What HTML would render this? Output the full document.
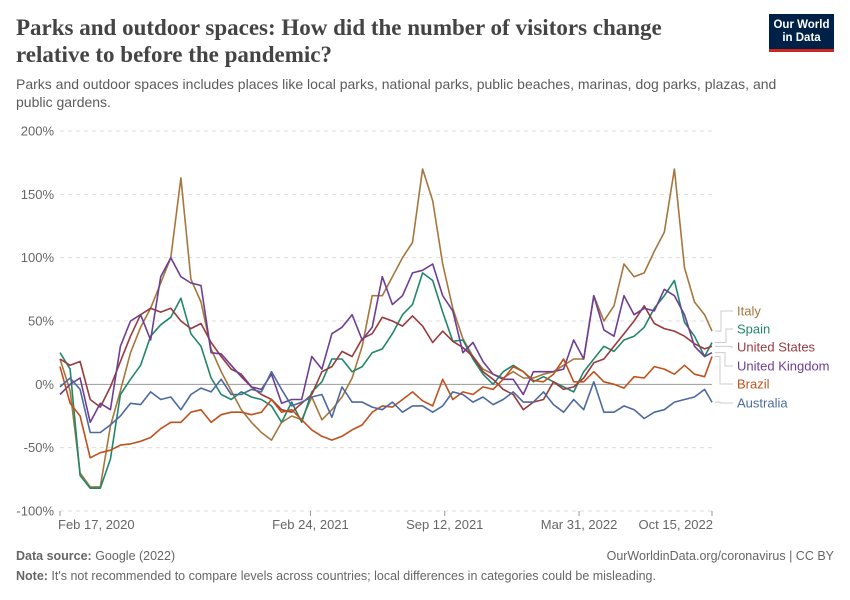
<!DOCTYPE html>
<html><head><meta charset="utf-8"><style>
body{margin:0;background:#fff;font-family:"Liberation Sans",sans-serif;}
#wrap{position:relative;width:850px;height:600px;overflow:hidden;}
.t{position:absolute;white-space:nowrap;}
</style></head><body>
<div id="wrap">
<div class="t" style="left:16px;top:14px;font-family:'Liberation Serif',serif;font-size:23px;font-weight:bold;color:#444;line-height:27px;">Parks and outdoor spaces: How did the number of visitors change<br>relative to before the pandemic?</div>
<div class="t" style="left:16px;top:75px;font-size:14px;color:#5b5b5b;line-height:18px;">Parks and outdoor spaces includes places like local parks, national parks, public beaches, marinas, dog parks, plazas, and<br>public gardens.</div>
<div style="position:absolute;left:769px;top:14px;width:65px;height:38px;background:#002147;border-bottom:3px solid #ce261e;box-sizing:border-box;color:#fff;font-size:11.5px;font-weight:bold;text-align:center;line-height:13px;padding-top:5px;">Our World<br>in Data</div>
<svg id="chart" width="850" height="600" style="position:absolute;left:0;top:0"></svg>
<div class="t" style="left:16px;top:549px;font-size:12.5px;color:#666;"><b>Data source:</b> Google (2022)</div>
<div class="t" style="right:16px;top:549px;font-size:12.5px;color:#666;">OurWorldinData.org/coronavirus | CC BY</div>
<div class="t" style="left:16px;top:569px;font-size:12.5px;color:#666;"><b>Note:</b> It's not recommended to compare levels across countries; local differences in categories could be misleading.</div>
</div>
<script>
const days=[0,15,30,45,60,75,90,105,120,135,150,165,180,195,210,225,240,255,270,285,300,315,330,345,360,375,390,405,420,435,450,465,480,495,510,525,540,555,570,585,600,615,630,645,660,675,690,705,720,735,750,765,780,795,810,825,840,855,870,885,900,915,930,945,960,971];
const italy=[20,-5,-70,-81,-81,-33,-5,25,45,60,80,100,163,83,65,28,10,-5,-20,-30,-38,-44,-30,-25,-28,-10,-28,-20,-10,5,30,70,70,85,100,112,170,145,95,60,36,22,12,8,5,10,5,5,8,10,15,20,20,70,50,62,95,85,88,105,120,170,92,65,55,42];
const spain=[25,12,-72,-82,-82,-59,-8,4,15,38,47,53,68,40,30,5,-8,-12,-6,-10,-12,-17,-30,-14,-30,-6,2,20,20,10,14,25,28,40,55,63,88,82,57,34,35,20,8,0,10,15,10,2,6,2,-2,-6,10,20,30,26,35,38,45,60,70,82,49,38,22,33];
const unitedStates=[20,15,18,-12,-18,-2,18,38,55,60,57,60,50,44,48,33,22,12,8,-2,-8,-12,-20,-22,-15,-8,10,14,26,22,36,40,53,50,46,54,46,33,42,34,29,22,10,4,-4,-8,-20,-14,-12,2,-4,-2,5,17,20,30,40,50,62,48,44,42,38,32,28,30];
const unitedKingdom=[-8,0,5,-30,-15,-20,30,50,55,35,85,100,85,80,78,25,24,15,6,-2,-4,8,-15,-12,-12,22,12,40,45,55,35,45,85,63,70,88,90,95,70,58,25,33,18,8,4,4,-8,10,10,10,12,35,20,70,43,38,70,55,60,58,75,70,55,30,22,25];
const brazil=[14,-15,-25,-58,-54,-52,-48,-47,-45,-42,-35,-30,-30,-22,-20,-30,-24,-22,-22,-24,-22,-12,-22,-20,-28,-36,-41,-44,-41,-36,-32,-22,-17,-18,-12,-6,-13,-17,4,-12,-6,-8,-2,-4,4,14,10,3,2,8,20,2,2,10,2,0,-3,6,5,14,12,8,15,8,6,22];
const australia=[-2,5,-4,-38,-38,-32,-25,-15,-16,-6,-12,-10,-20,-8,-3,-6,4,-8,-8,-4,-6,10,-4,-17,-14,-10,-8,-26,-2,-14,-14,-18,-20,-14,-22,-17,-17,-22,-17,-6,-8,-14,-10,-16,-12,-6,-14,-14,-6,-16,-22,-12,-20,2,-22,-22,-17,-20,-27,-22,-20,-14,-12,-10,-4,-14];
const yTicks=[-100,-50,0,50,100,150,200];
const yTickLabels=["-100%","-50%","0%","50%","100%","150%","200%"];
const xTickDays=[0,373,573,773,971];
const xTickLabels=["Feb 17, 2020","Feb 24, 2021","Sep 12, 2021","Mar 31, 2022","Oct 15, 2022"];
const seriesNames=["Italy","Spain","United States","United Kingdom","Brazil","Australia"];
const seriesColors=["#a5773d","#22876a","#973b3f","#6d3e94","#c0511d","#4d6aa0"];
const seriesData=[italy,spain,unitedStates,unitedKingdom,brazil,australia];
const labelY=[311,329,347,366,384,403];
const elbowX=[721,726,731,725,720,720];

const X0=60,X1=712,Y0=511,Y1=131;
const xs=d=>X0+(d-0)/(971-0)*(X1-X0);
const ys=v=>Y0+(v-(-100))/(300)*(Y1-Y0);
const NS="http://www.w3.org/2000/svg";
const svg=document.getElementById('chart');
function mk(tag,attrs){const e=document.createElementNS(NS,tag);for(const k in attrs)e.setAttribute(k,attrs[k]);svg.appendChild(e);return e;}

yTicks.forEach((t,i)=>{
  const y=ys(t);
  let g;
  if(t===0){g=mk('line',{x1:X0,x2:X1,y1:y,y2:y,stroke:'#999','stroke-width':1});}
  else{g=mk('line',{x1:X0,x2:X1,y1:y,y2:y,stroke:'#ddd','stroke-width':1,'stroke-dasharray':'4,4'});}
  
  
  const tx=mk('text',{x:54,y:y+4.5,'text-anchor':'end','font-size':13,fill:'#666','font-family':'Liberation Sans, sans-serif'});
  tx.textContent=yTickLabels[i];
  
  
});
xTickDays.forEach((d,i)=>{
  const x=xs(d);
  const tk=mk('line',{x1:x,x2:x,y1:Y0,y2:Y0+5,stroke:'#999'});
  
  
  const anchor=i===0?'start':(i===xTickDays.length-1?'end':'middle');
  const tx=mk('text',{x:i===0?x-2:(i===xTickDays.length-1?x+1:x),y:Y0+18,'text-anchor':anchor,'font-size':13,fill:'#666','font-family':'Liberation Sans, sans-serif'});
  tx.textContent=xTickLabels[i];
  
  
});
seriesData.forEach((vals,s)=>{
  const n=Math.min(vals.length,days.length);
  let d='';
  for(let i=0;i<n;i++){d+=(i?'L':'M')+xs(days[i]).toFixed(1)+','+ys(vals[i]).toFixed(1);}
  const p=mk('path',{d:d,fill:'none',stroke:seriesColors[s],'stroke-width':1.6,'stroke-linejoin':'round'});
  
  
  const ey=ys(vals[n-1]);
  const c=mk('polyline',{points:`${X1+3},${ey} ${elbowX[s]},${ey} ${elbowX[s]},${labelY[s]} 733,${labelY[s]}`,fill:'none',stroke:'#ccc','stroke-width':1});
  
  
  const t=mk('text',{x:737,y:labelY[s]+4.5,'font-size':13,fill:seriesColors[s],'font-family':'Liberation Sans, sans-serif'});
  t.textContent=seriesNames[s];
  
  
});
</script>
</body></html>
